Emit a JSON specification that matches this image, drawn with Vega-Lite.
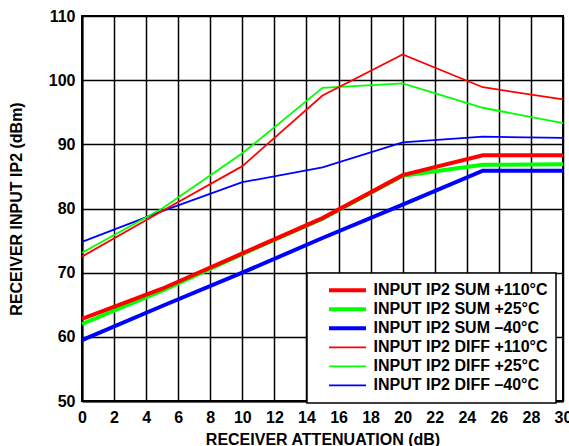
{
  "$schema": "https://vega.github.io/schema/vega-lite/v6.json",
  "autosize": {"type": "none"},
  "width": 481,
  "height": 385,
  "padding": {"left": 82, "top": 16, "right": 6, "bottom": 45},
  "background": "white",
  "data": {"values": [
    {"series": "INPUT IP2 DIFF –40°C", "x": 0, "y": 74.8},
    {"series": "INPUT IP2 DIFF –40°C", "x": 5, "y": 79.6},
    {"series": "INPUT IP2 DIFF –40°C", "x": 10, "y": 84.1},
    {"series": "INPUT IP2 DIFF –40°C", "x": 15, "y": 86.4},
    {"series": "INPUT IP2 DIFF –40°C", "x": 20, "y": 90.3},
    {"series": "INPUT IP2 DIFF –40°C", "x": 25, "y": 91.2},
    {"series": "INPUT IP2 DIFF –40°C", "x": 30, "y": 91.0},
    {"series": "INPUT IP2 DIFF +25°C", "x": 0, "y": 73.1},
    {"series": "INPUT IP2 DIFF +25°C", "x": 5, "y": 80.0},
    {"series": "INPUT IP2 DIFF +25°C", "x": 10, "y": 88.6},
    {"series": "INPUT IP2 DIFF +25°C", "x": 15, "y": 98.8},
    {"series": "INPUT IP2 DIFF +25°C", "x": 20, "y": 99.5},
    {"series": "INPUT IP2 DIFF +25°C", "x": 25, "y": 95.7},
    {"series": "INPUT IP2 DIFF +25°C", "x": 30, "y": 93.3},
    {"series": "INPUT IP2 DIFF +110°C", "x": 0, "y": 72.5},
    {"series": "INPUT IP2 DIFF +110°C", "x": 5, "y": 79.6},
    {"series": "INPUT IP2 DIFF +110°C", "x": 10, "y": 86.6},
    {"series": "INPUT IP2 DIFF +110°C", "x": 15, "y": 97.6},
    {"series": "INPUT IP2 DIFF +110°C", "x": 20, "y": 104.0},
    {"series": "INPUT IP2 DIFF +110°C", "x": 25, "y": 98.9},
    {"series": "INPUT IP2 DIFF +110°C", "x": 30, "y": 97.0},
    {"series": "INPUT IP2 SUM –40°C", "x": 0, "y": 59.5},
    {"series": "INPUT IP2 SUM –40°C", "x": 5, "y": 64.8},
    {"series": "INPUT IP2 SUM –40°C", "x": 10, "y": 70.0},
    {"series": "INPUT IP2 SUM –40°C", "x": 15, "y": 75.4},
    {"series": "INPUT IP2 SUM –40°C", "x": 20, "y": 80.6},
    {"series": "INPUT IP2 SUM –40°C", "x": 25, "y": 85.9},
    {"series": "INPUT IP2 SUM –40°C", "x": 30, "y": 85.9},
    {"series": "INPUT IP2 SUM +25°C", "x": 0, "y": 62.0},
    {"series": "INPUT IP2 SUM +25°C", "x": 5, "y": 67.2},
    {"series": "INPUT IP2 SUM +25°C", "x": 10, "y": 72.9},
    {"series": "INPUT IP2 SUM +25°C", "x": 15, "y": 78.4},
    {"series": "INPUT IP2 SUM +25°C", "x": 20, "y": 85.1},
    {"series": "INPUT IP2 SUM +25°C", "x": 25, "y": 86.8},
    {"series": "INPUT IP2 SUM +25°C", "x": 30, "y": 86.9},
    {"series": "INPUT IP2 SUM +110°C", "x": 0, "y": 62.8},
    {"series": "INPUT IP2 SUM +110°C", "x": 5, "y": 67.5},
    {"series": "INPUT IP2 SUM +110°C", "x": 10, "y": 73.0},
    {"series": "INPUT IP2 SUM +110°C", "x": 15, "y": 78.5},
    {"series": "INPUT IP2 SUM +110°C", "x": 20, "y": 85.2},
    {"series": "INPUT IP2 SUM +110°C", "x": 25, "y": 88.3},
    {"series": "INPUT IP2 SUM +110°C", "x": 30, "y": 88.3}
  ]},
  "mark": {"type": "line", "strokeCap": "butt", "strokeJoin": "miter"},
  "encoding": {
    "x": {
      "field": "x", "type": "quantitative",
      "scale": {"domain": [0, 30], "nice": false, "zero": false},
      "axis": {"values": [0,2,4,6,8,10,12,14,16,18,20,22,24,26,28,30], "title": "RECEIVER ATTENUATION (dB)", "labelPadding": 8, "titlePadding": 6}
    },
    "y": {
      "field": "y", "type": "quantitative",
      "scale": {"domain": [50, 110], "nice": false, "zero": false},
      "axis": {"values": [50,60,70,80,90,100,110], "title": "RECEIVER INPUT IP2 (dBm)", "labelPadding": 7, "titlePadding": 24}
    },
    "color": {
      "field": "series", "type": "nominal",
      "scale": {
        "domain": ["INPUT IP2 SUM +110°C", "INPUT IP2 SUM +25°C", "INPUT IP2 SUM –40°C", "INPUT IP2 DIFF +110°C", "INPUT IP2 DIFF +25°C", "INPUT IP2 DIFF –40°C"],
        "range": ["#ff0000", "#00ff00", "#0000ff", "#ff0000", "#00ff00", "#0000ff"]
      },
      "legend": {"title": null}
    },
    "strokeWidth": {
      "field": "series", "type": "ordinal",
      "scale": {
        "type": "ordinal",
        "domain": ["INPUT IP2 SUM +110°C", "INPUT IP2 SUM +25°C", "INPUT IP2 SUM –40°C", "INPUT IP2 DIFF +110°C", "INPUT IP2 DIFF +25°C", "INPUT IP2 DIFF –40°C"],
        "range": [4, 4, 4, 1.8, 1.8, 1.8]
      },
      "legend": {"title": null}
    }
  },
  "config": {
    "font": "Liberation Sans",
    "view": {"stroke": "#000000", "strokeWidth": 2},
    "axis": {
      "grid": true,
      "gridColor": "#000000",
      "gridWidth": 1.5,
      "gridOpacity": 1,
      "domainColor": "#000000",
      "domainWidth": 2,
      "ticks": false,
      "labelFont": "Liberation Sans",
      "labelFontSize": 16,
      "labelFontWeight": "bold",
      "labelColor": "#000000",
      "labelFlush": false,
      "labelOverlap": false,
      "titleFont": "Liberation Sans",
      "titleFontSize": 16,
      "titleFontWeight": "bold",
      "titleColor": "#000000"
    },
    "legend": {
      "orient": "none",
      "legendX": 225,
      "legendY": 257,
      "padding": 8,
      "fillColor": "#ffffff",
      "strokeColor": "#000000",
      "strokeWidth": 1.5,
      "cornerRadius": 0,
      "clipHeight": 18.66,
      "rowPadding": 0,
      "symbolType": "stroke",
      "symbolSize": 1369,
      "symbolOffset": 12,
      "labelOffset": 5.5,
      "labelFont": "Liberation Sans",
      "labelFontSize": 16,
      "labelFontWeight": "bold",
      "labelColor": "#000000",
      "labelLimit": 400
    }
  }
}
